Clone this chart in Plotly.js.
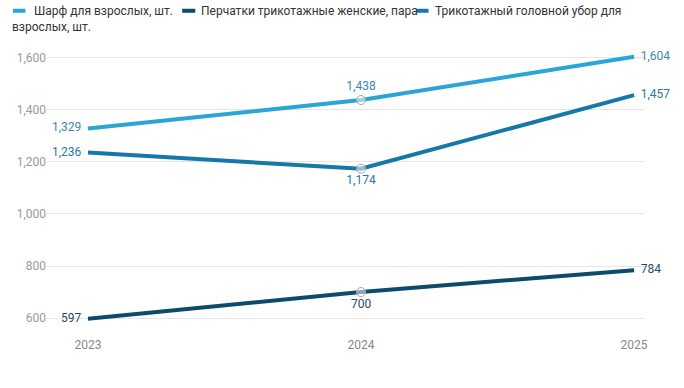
<!DOCTYPE html>
<html>
<head>
<meta charset="utf-8">
<script src="https://cdn.plot.ly/plotly-3.0.1.min.js"></script>
<style>html,body{margin:0;padding:0;background:#fff;}#chart{width:684px;height:388px;}</style>
</head>
<body>
<div id="chart"></div>
<script>
var years = [2023, 2024, 2025];
var seriesNames = ["Шарф для взрослых, шт.", "Перчатки трикотажные женские, пара", "Трикотажный головной убор для взрослых, шт."];
var scarf = [1329, 1438, 1604];
var gloves = [597, 700, 784];
var hats = [1236, 1174, 1457];
var yTicks = [600, 800, 1000, 1200, 1400, 1600];

var colors = ["#2aa5d5", "#0e4a6b", "#1578a8"];
var labelColors = ["#3c88b2", "#2d4a5e", "#2a76a2"];

function mk(y, i, pos) {
  return {
    x: years, y: y, name: seriesNames[i], type: "scatter", mode: "lines+markers+text",
    line: {color: colors[i], width: 4},
    marker: {size: 9, color: "rgba(255,255,255,0.5)", line: {color: "#a8a8a8", width: 1}, opacity: [0, 1, 0]},
    text: y.map(function(v){ return v.toLocaleString("en-US"); }),
    textposition: pos,
    textfont: {family: "Roboto", size: 12, color: labelColors[i]},
    cliponaxis: false,
    showlegend: false,
    hoverinfo: "x+y"
  };
}

var data = [
  mk(scarf, 0, ["middle left", "top center", "middle right"]),
  mk(gloves, 1, ["middle left", "bottom center", "middle right"]),
  mk(hats, 2, ["middle left", "bottom center", "middle right"])
];

var legendFont = {family: "Roboto", size: 12, color: "#333"};
var layout = {
  width: 684, height: 388,
  margin: {l: 47, r: 39, t: 48, b: 58},
  paper_bgcolor: "#fff", plot_bgcolor: "#fff",
  font: {family: "Roboto", size: 12, color: "#999"},
  xaxis: {range: [2022.85, 2025.04], tickvals: years, ticktext: years.map(String), showgrid: false, zeroline: false, showline: false, tickfont: {size: 12, color: "#888"}, ticklabelstandoff: 6},
  yaxis: {range: [554, 1638], tickvals: yTicks, ticktext: yTicks.map(function(v){return v.toLocaleString("en-US");}), gridcolor: "#e6e6e6", zeroline: false, showline: false, tickfont: {size: 12, color: "#999"}},
  showlegend: false,
  shapes: [
    {type: "line", xref: "paper", yref: "paper", x0: -0.057, x1: -0.036, y0: 1.132, y1: 1.132, line: {color: colors[0], width: 4}},
    {type: "line", xref: "paper", yref: "paper", x0: 0.226, x1: 0.248, y0: 1.132, y1: 1.132, line: {color: colors[1], width: 4}},
    {type: "line", xref: "paper", yref: "paper", x0: 0.617, x1: 0.638, y0: 1.132, y1: 1.132, line: {color: colors[2], width: 4}}
  ],
  annotations: [
    {xref: "paper", yref: "paper", x: -0.025, y: 1.132, xanchor: "left", yanchor: "middle", showarrow: false, text: seriesNames[0], font: legendFont},
    {xref: "paper", yref: "paper", x: 0.254, y: 1.132, xanchor: "left", yanchor: "middle", showarrow: false, text: seriesNames[1], font: legendFont},
    {xref: "paper", yref: "paper", x: 0.645, y: 1.132, xanchor: "left", yanchor: "middle", showarrow: false, text: "Трикотажный головной убор для", font: legendFont},
    {xref: "paper", yref: "paper", x: -0.062, y: 1.075, xanchor: "left", yanchor: "middle", showarrow: false, text: "взрослых, шт.", font: legendFont}
  ]
};

Plotly.newPlot("chart", data, layout, {displayModeBar: false, staticPlot: true});
</script>
</body>
</html>
